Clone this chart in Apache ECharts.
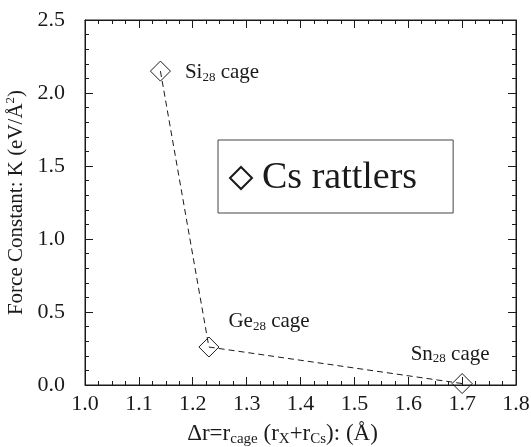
<!DOCTYPE html>
<html>
<head>
<meta charset="utf-8">
<script src="https://cdn.jsdelivr.net/npm/echarts@6/dist/echarts.min.js"></script>
<style>
  html, body { margin: 0; padding: 0; background: #fff; }
  #chart { width: 531px; height: 447px; }
</style>
</head>
<body>
<div id="chart"></div>
<script>
// radius difference (Å) vs force constant K (eV/Å^2)
const cages = ['Si', 'Ge', 'Sn'];
const deltaR = [1.14, 1.23, 1.70];
const forceK = [2.15, 0.26, 0.01];
const xTicks = { min: 1.0, max: 1.8, step: 0.1 };
const yTicks = { min: 0, max: 2.5, step: 0.5 };

const serif = '"Liberation Serif", "Times New Roman", serif';
const ink = '#1a1a1a';

// label placement relative to each symbol's box (20x20)
const labelPos = [[35, 12], [30, -15], [-41, -19]];

const chart = echarts.init(document.getElementById('chart'));

const labelRich = {
  a: { fontFamily: serif, fontSize: 21, color: ink },
  sub: { fontFamily: serif, fontSize: 13, color: ink, padding: [10, 0, 0, 0] },
};

const points = deltaR.map((x, i) => ({
  value: [x, forceK[i]],
  label: {
    show: true,
    position: labelPos[i],
    align: 'left',
    verticalAlign: 'middle',
    formatter: '{a|' + cages[i] + '}{sub|28}{a| cage}',
    rich: labelRich,
  },
}));

const tickLine = { color: ink, width: 1 };

chart.setOption({
  backgroundColor: '#fff',
  animation: false,
  grid: {
    left: 85, right: 15, top: 20, bottom: 62,
    outerBoundsMode: 'none',
    show: true, borderColor: ink, borderWidth: 1,
  },
  legend: {
    left: 218,
    top: 140,
    data: ['Cs rattlers'],
    icon: 'diamond',
    itemWidth: 22,
    itemHeight: 22,
    borderColor: '#444',
    borderWidth: 1,
    padding: [18, 36, 15, 11],
    textStyle: {
      fontFamily: serif, fontSize: 38, color: ink, lineHeight: 40, padding: [0, 0, 0, 5],
    },
  },
  xAxis: [
    {
      type: 'value',
      min: xTicks.min,
      max: xTicks.max,
      interval: xTicks.step,
      position: 'bottom',
      axisLine: { onZero: false, lineStyle: tickLine },
      axisTick: { inside: true, length: 8, lineStyle: tickLine },
      minorTick: { show: true, splitNumber: 4, length: 4, lineStyle: tickLine },
      splitLine: { show: false },
      axisLabel: {
        fontFamily: serif, fontSize: 22, color: ink, margin: 8,
        formatter: (v) => v.toFixed(1),
      },
      name: '{a|Δr=r}{sub|cage}{a| (r}{sub|X}{a|+r}{sub|Cs}{a|): (Å)}',
      nameLocation: 'middle',
      nameGap: 35,
      nameTextStyle: {
        padding: [0, 36, 0, 0],
        rich: {
          a: { fontFamily: serif, fontSize: 23, color: ink },
          sub: { fontFamily: serif, fontSize: 15, color: ink, padding: [12, 0, 0, 0] },
        },
      },
    },
    {
      type: 'value',
      min: xTicks.min,
      max: xTicks.max,
      interval: xTicks.step,
      position: 'top',
      axisLine: { onZero: false, lineStyle: tickLine },
      axisTick: { inside: true, length: 8, lineStyle: tickLine },
      minorTick: { show: true, splitNumber: 4, length: 4, lineStyle: tickLine },
      splitLine: { show: false },
      axisLabel: { show: false },
    },
  ],
  yAxis: [
    {
      type: 'value',
      min: yTicks.min,
      max: yTicks.max,
      interval: yTicks.step,
      position: 'left',
      axisLine: { show: true, onZero: false, lineStyle: tickLine },
      axisTick: { show: true, inside: true, length: 8, lineStyle: tickLine },
      minorTick: { show: true, splitNumber: 5, length: 4, lineStyle: tickLine },
      splitLine: { show: false },
      axisLabel: {
        fontFamily: serif, fontSize: 22, color: ink, margin: 20,
        formatter: (v) => v.toFixed(1),
      },
      name: '{a|Force Constant: K (eV/Å}{sup|2}{a|)}',
      nameLocation: 'middle',
      nameGap: 46,
      nameTextStyle: {
        rich: {
          a: { fontFamily: serif, fontSize: 21, color: ink },
          sup: { fontFamily: serif, fontSize: 13, color: ink, padding: [0, 0, 12, 0] },
        },
      },
    },
    {
      type: 'value',
      min: yTicks.min,
      max: yTicks.max,
      interval: yTicks.step,
      position: 'right',
      axisLine: { show: true, onZero: false, lineStyle: tickLine },
      axisTick: { show: true, inside: true, length: 8, lineStyle: tickLine },
      minorTick: { show: true, splitNumber: 5, length: 4, lineStyle: tickLine },
      splitLine: { show: false },
      axisLabel: { show: false },
    },
  ],
  series: [
    {
      name: 'Cs rattlers',
      type: 'line',
      data: points,
      symbol: 'diamond',
      symbolSize: 20,
      itemStyle: { color: 'rgba(255,255,255,0)', borderColor: ink, borderWidth: 1 },
      lineStyle: { color: ink, width: 1, type: [6, 4] },
      z: 3,
    },
  ],
});
</script>
</body>
</html>
